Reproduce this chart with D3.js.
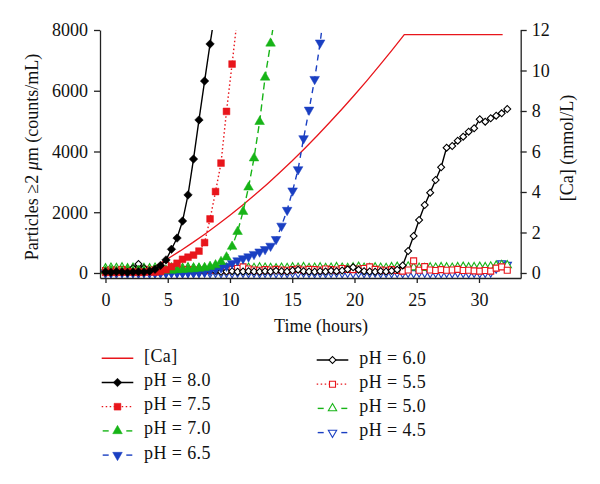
<!DOCTYPE html>
<html><head><meta charset="utf-8">
<script src="https://cdn.jsdelivr.net/npm/d3@7"></script>
<style>
body{margin:0;background:#fff}
svg{display:block}
text{font-family:'Liberation Serif','Times New Roman',serif;fill:#111}
</style>
</head><body>
<svg id="c" width="600" height="484"></svg>
<script>
// ---- data ----
const hours = [0,0.44,0.88,1.33,1.77,2.21,2.65,3.09,3.54,3.98,4.42,4.86,5.30,5.75,6.19,6.63,7.07,7.51,7.96,8.40,
 8.84,9.28,9.72,10.17,10.61,11.05,11.49,11.93,12.38,12.82,13.26,13.70,14.14,14.59,15.03,15.47,15.91,16.35,16.80,17.24,
 17.68,18.12,18.56,19.01,19.45,19.89,20.33,20.77,21.22,21.66,22.10,22.54,22.98,23.43,23.87,24.31,24.75,25.19,25.64,26.08,
 26.52,26.96,27.40,27.85,28.29,28.73,29.17,29.61,30.06,30.50,30.94,31.38,31.82,32.27];

const caHours  = [0,3,4,5,6,7,8,9,10,11,12,13,14,15,16,17,18,19,20,21,22,23,24,31.9];
const caValues = [0,0,0.34,0.70,1.09,1.50,1.93,2.38,2.85,3.34,3.86,4.40,4.96,5.54,6.15,6.78,7.43,8.10,8.79,9.50,10.24,10.99,11.77,11.77];

const ph80 = [30,20,40,30,20,30,40,30,60,120,250,430,780,1150,1710,2570,3750,5040,6320,7540,8700];
const ph75 = [20,30,20,30,40,30,20,30,40,30,50,110,210,320,450,520,590,720,1000,1780,2680,3620,5320,6880,8470];
const ph70 = [60,80,60,70,90,60,80,70,60,80,70,90,80,100,110,120,130,150,170,210,260,370,520,870,1360,2020,2820,3780,4980,6440,7560,8700];
const ph65 = [0,10,0,10,0,10,0,10,0,10,0,10,10,10,10,15,20,30,50,80,120,170,230,320,410,480,540,620,700,780,890,1110,1550,2070,2710,3410,4430,5370,6380,7580,9000];
const ph60 = [40,50,40,60,90,160,300,160,70,40,50,40,60,50,40,50,60,40,50,70,60,40,50,60,40,50,60,50,40,60,50,70,60,50,80,110,60,50,40,60,
 50,70,60,80,120,190,110,60,50,40,60,50,70,110,250,724,1218,1745,2239,2645,3062,3480,4126,4181,4357,4488,4653,4764,5060,4982,5093,5180,5257,5400];
const ph55 = [80,100,90,110,80,100,90,120,100,90,150,250,180,100,90,110,100,80,100,90,110,100,90,120,150,200,130,100,90,110,
 100,120,100,90,110,130,100,120,110,100,130,110,100,150,120,110,130,150,200,120,100,90,110,80,60,100,400,90,210,100,
 80,110,90,100,120,80,90,70,60,80,60,160,200,90];
const ph50 = [150,170,160,180,150,170,190,160,150,170,160,180,170,150,160,180,170,160,150,170,180,160,170,150,160,190,170,160,180,170,
 160,150,170,160,180,170,190,160,170,180,160,170,190,170,160,180,200,170,160,180,170,160,190,200,170,210,180,170,160,180,
 170,190,180,170,190,200,180,190,200,190,210,240,260,250];
const ph45 = [10,0,10,20,0,10,0,20,10,0,10,0,20,10,0,10,0,10,20,0,10,0,10,0,20,10,0,10,0,10,
 20,0,10,0,10,0,20,10,0,10,0,10,20,0,10,0,10,0,10,20,0,10,0,10,0,10,0,20,10,0,
 10,0,10,0,20,10,0,10,0,10,20,150,320,270];

const xTicks = [0,5,10,15,20,25,30];
const yTicks = [0,2000,4000,6000,8000];
const caTicks = [0,2,4,6,8,10,12];

const RED = "#e8151b", GREEN = "#17b417", BLUE = "#1a3fc2", BLACK = "#000";

const series = [
  {name:"pH = 4.5", values:ph45, color:BLUE,  dash:"6,5",   marker:"triDown", open:true},
  {name:"pH = 5.0", values:ph50, color:GREEN, dash:"7,4",   marker:"tri",     open:true},
  {name:"pH = 5.5", values:ph55, color:RED,   dash:"1.5,2.5", marker:"square", open:true},
  {name:"pH = 6.0", values:ph60, color:BLACK, dash:null,    marker:"diamond", open:true},
  {name:"pH = 6.5", values:ph65, color:BLUE,  dash:"6,5",   marker:"triDown", open:false},
  {name:"pH = 7.0", values:ph70, color:GREEN, dash:"7,4",   marker:"tri",     open:false},
  {name:"pH = 7.5", values:ph75, color:RED,   dash:"1.5,2.5", marker:"square", open:false},
  {name:"pH = 8.0", values:ph80, color:BLACK, dash:null,    marker:"diamond", open:false}
];

// ---- scales ----
const svg = d3.select("#c");
const X0 = 100, X1 = 520.7, Y0 = 278, Y1 = 30;
const x = d3.scaleLinear().domain([-0.44, 33.35]).range([X0, X1]);
const y = d3.scaleLinear().domain([-165, 8000]).range([Y0, Y1]);
const yCa = d3.scaleLinear().domain([-0.2475, 12]).range([Y0, Y1]);

svg.append("defs").append("clipPath").attr("id","clip")
  .append("rect").attr("x",X0).attr("y",Y1).attr("width",X1-X0).attr("height",Y0-Y1);

function markerPath(type, open){
  if (type === "diamond") return d3.symbol(d3.symbolSquare, open ? 24 : 36)();
  if (type === "square") return d3.symbol(d3.symbolSquare, open ? 36 : 46)();
  return d3.symbol(d3.symbolTriangle, open ? 30 : 40)();
}
function markerRot(type){
  if (type === "diamond") return 45;
  if (type === "triDown") return 180;
  return 0;
}

const plot = svg.append("g").attr("clip-path","url(#clip)");

// Ca line
plot.append("path")
  .datum(caHours.map((h,i)=>[h,caValues[i]]))
  .attr("fill","none").attr("stroke",RED).attr("stroke-width",1.3)
  .attr("d", d3.line().x(d=>x(d[0])).y(d=>yCa(d[1])));

series.forEach(s=>{
  const pts = s.values.map((v,i)=>[hours[i], v]);
  const g = plot.append("g");
  g.append("path").datum(pts)
    .attr("fill","none").attr("stroke",s.color).attr("stroke-width",1.4)
    .attr("stroke-dasharray", s.dash)
    .attr("d", d3.line().x(d=>x(d[0])).y(d=>y(d[1])));
  const mp = markerPath(s.marker, s.open), rot = markerRot(s.marker);
  g.selectAll("path.m").data(pts).join("path").attr("class","m")
    .attr("d", mp)
    .attr("transform", d=>`translate(${x(d[0])},${y(d[1])}) rotate(${rot})`)
    .attr("fill", s.open ? "#fff" : s.color)
    .attr("stroke", s.color)
    .attr("stroke-width", s.open ? 1.1 : 0.5);
});

// ---- axes ----
function styleAxis(g){
  g.attr("font-family", null).attr("font-size", null);
  g.selectAll("path.domain").attr("stroke","#222").attr("stroke-width",1.3);
  g.selectAll(".tick line").attr("stroke","#222").attr("stroke-width",1.3);
  g.selectAll(".tick text").attr("font-size",18).attr("fill","#111")
    .style("font-family","'Liberation Serif','Times New Roman',serif");
}
svg.append("g").attr("transform",`translate(0,${Y0})`)
  .call(d3.axisBottom(x).tickValues(xTicks).tickFormat(d3.format("d")).tickSize(5).tickSizeOuter(0).tickPadding(10))
  .call(styleAxis);
svg.append("g").attr("transform",`translate(${X0},0)`)
  .call(d3.axisLeft(y).tickValues(yTicks).tickFormat(d3.format("d")).tickSize(6).tickSizeOuter(0).tickPadding(6))
  .call(styleAxis);
svg.append("g").attr("transform",`translate(${X1},0)`)
  .call(d3.axisRight(yCa).tickValues(caTicks).tickFormat(d3.format("d")).tickSize(6).tickSizeOuter(0).tickPadding(5))
  .call(styleAxis);

// ---- titles ----
svg.append("text").attr("x",321).attr("y",332).attr("text-anchor","middle")
  .attr("font-size",18).text("Time (hours)");
const lt = svg.append("text").attr("transform","translate(38,157) rotate(-90)")
  .attr("text-anchor","middle").attr("font-size",18);
lt.append("tspan").text("Particles \u22652 ");
lt.append("tspan").attr("font-style","italic").text("\u03bc");
lt.append("tspan").text("m (counts/mL)");
svg.append("text").attr("transform","translate(573,148) rotate(-90)")
  .attr("text-anchor","middle").attr("font-size",18).text("[Ca] (mmol/L)");

// ---- legend ----
const legendItems = [
  {name:"[Ca]", color:RED, dash:null, marker:null, col:0, row:0},
  {s:"pH = 8.0", col:0, row:1},
  {s:"pH = 7.5", col:0, row:2},
  {s:"pH = 7.0", col:0, row:3},
  {s:"pH = 6.5", col:0, row:4},
  {s:"pH = 6.0", col:1, row:0},
  {s:"pH = 5.5", col:1, row:1},
  {s:"pH = 5.0", col:1, row:2},
  {s:"pH = 4.5", col:1, row:3}
];
const colX = [101.7, 316.7], colY = [358.3, 360], rowH = 24.2, sampleW = 31.6;
legendItems.forEach(it=>{
  const s = it.s ? series.find(d=>d.name===it.s) : it;
  const lx = colX[it.col], ly = colY[it.col] + it.row*rowH;
  const g = svg.append("g");
  if (s.dash && s.dash.startsWith("1.5")) {
    g.append("line").attr("x1",lx).attr("x2",lx+sampleW).attr("y1",ly).attr("y2",ly)
      .attr("stroke",s.color).attr("stroke-width",1.3).attr("stroke-dasharray",s.dash);
  } else if (s.dash) {
    [[lx+1, lx+7],[lx+sampleW-7, lx+sampleW-1]].forEach(seg=>{
      g.append("line").attr("x1",seg[0]).attr("x2",seg[1]).attr("y1",ly).attr("y2",ly)
        .attr("stroke",s.color).attr("stroke-width",1.4);
    });
  } else {
    g.append("line").attr("x1",lx).attr("x2",lx+sampleW).attr("y1",ly).attr("y2",ly)
      .attr("stroke",s.color).attr("stroke-width",1.4);
  }
  if (s.marker) {
    g.append("path").attr("d", markerPath(s.marker, s.open))
      .attr("transform",`translate(${lx+sampleW/2},${ly}) rotate(${markerRot(s.marker)})`)
      .attr("fill", s.open ? "#fff" : s.color).attr("stroke", s.color)
      .attr("stroke-width", s.open ? 1.1 : 0.5);
  }
  g.append("text").attr("x", lx + (it.col===0 ? 42.3 : 42.6)).attr("y", ly+3.5)
    .attr("font-size",18).attr("letter-spacing",0.4).text(s.name);
});
</script>
</body></html>
